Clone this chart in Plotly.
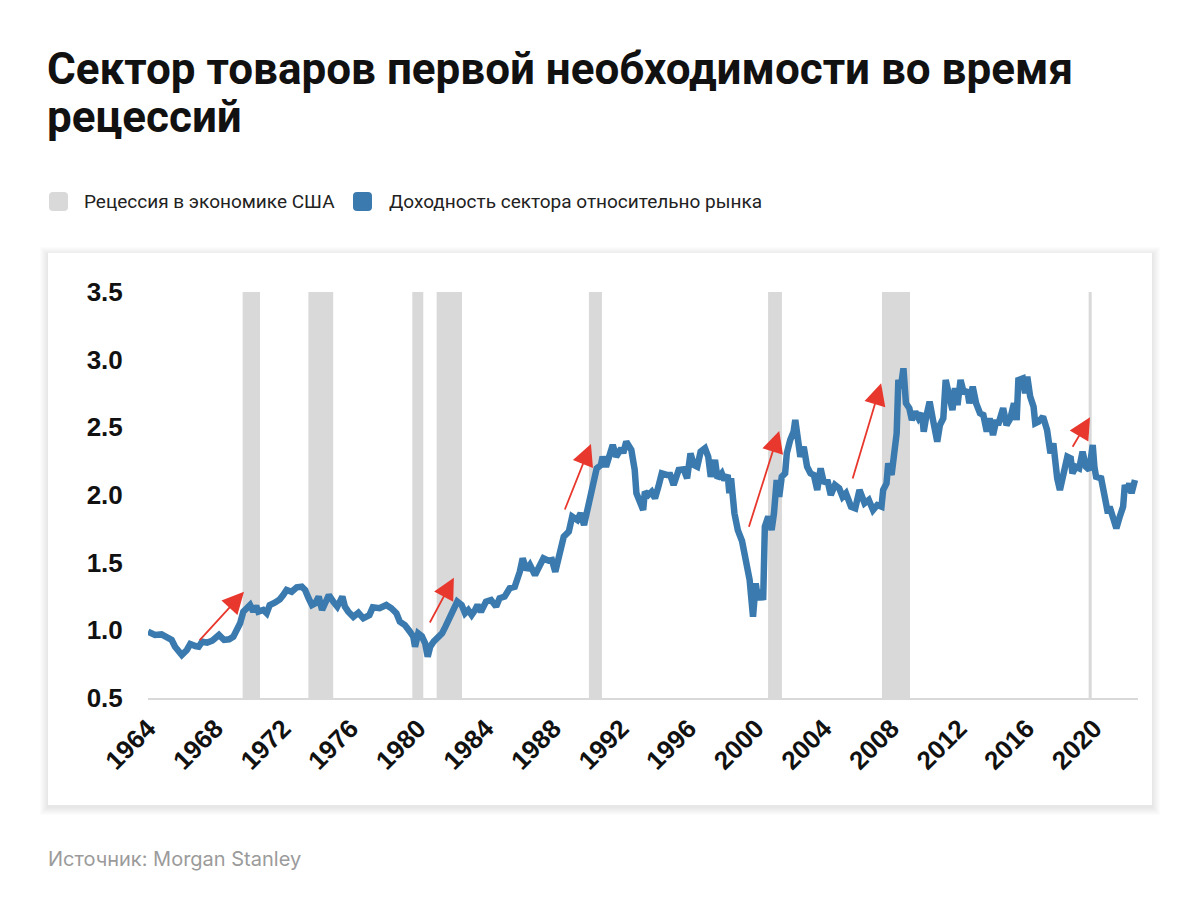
import plotly.graph_objects as go

# ---------------- data ----------------
years = [
    1964.0, 1964.2, 1964.41, 1964.8, 1965.1, 1965.4, 1965.6, 1966.0, 1966.3, 1966.5,
    1966.8, 1967.0, 1967.2, 1967.5, 1967.8, 1968.2, 1968.5, 1968.8, 1969.05, 1969.3,
    1969.45, 1969.64, 1969.84, 1970.04, 1970.23, 1970.4, 1970.53, 1970.82, 1971.02, 1971.2,
    1971.5, 1971.8, 1972.0, 1972.2, 1972.5, 1972.8, 1973.1, 1973.3, 1973.5, 1973.7,
    1973.9, 1974.1, 1974.3, 1974.5, 1974.7, 1974.96, 1975.2, 1975.5, 1975.65, 1975.85,
    1976.15, 1976.45, 1976.74, 1977.1, 1977.3, 1977.7, 1978.1, 1978.4, 1978.7, 1978.9,
    1979.2, 1979.5, 1979.7, 1979.8, 1979.99, 1980.2, 1980.4, 1980.55, 1980.7, 1980.9,
    1981.2, 1981.4, 1981.6, 1981.9, 1982.1, 1982.3, 1982.56, 1982.76, 1982.95, 1983.15,
    1983.35, 1983.5, 1983.7, 1984.0, 1984.3, 1984.6, 1984.8, 1985.1, 1985.4, 1985.7,
    1986.0, 1986.17, 1986.4, 1986.6, 1986.9, 1987.15, 1987.4, 1987.7, 1987.9, 1988.1,
    1988.4, 1988.6, 1988.9, 1989.1, 1989.4, 1989.6, 1989.8, 1990.0, 1990.2, 1990.4,
    1990.55, 1990.8, 1990.9, 1991.1, 1991.3, 1991.5, 1991.7, 1992.0, 1992.12, 1992.3,
    1992.6, 1992.8, 1992.9, 1993.1, 1993.3, 1993.4, 1993.6, 1993.8, 1994.0, 1994.2,
    1994.4, 1994.7, 1994.9, 1995.1, 1995.4, 1995.7, 1995.9, 1996.1, 1996.3, 1996.5,
    1996.7, 1996.96, 1997.15, 1997.3, 1997.55, 1997.7, 1997.95, 1998.1, 1998.3, 1998.4,
    1998.5, 1998.7, 1998.9, 1999.15, 1999.3, 1999.45, 1999.6, 1999.8, 1999.96, 2000.1,
    2000.24, 2000.4, 2000.5, 2000.7, 2000.9, 2001.04, 2001.2, 2001.35, 2001.5, 2001.7,
    2001.8, 2002.0, 2002.2, 2002.3, 2002.5, 2002.6, 2002.8, 2003.0, 2003.2, 2003.4,
    2003.6, 2003.8, 2004.0, 2004.2, 2004.4, 2004.65, 2004.9, 2005.1, 2005.3, 2005.6,
    2005.85, 2006.1, 2006.4, 2006.65, 2006.9, 2007.15, 2007.4, 2007.5, 2007.7, 2007.8,
    2008.0, 2008.14, 2008.3, 2008.4, 2008.54, 2008.7, 2008.85, 2009.05, 2009.2, 2009.4,
    2009.6, 2009.8, 2009.9, 2010.05, 2010.25, 2010.45, 2010.7, 2010.86, 2011.06, 2011.2,
    2011.4, 2011.6, 2011.75, 2011.9, 2012.08, 2012.28, 2012.48, 2012.6, 2012.8, 2013.0,
    2013.23, 2013.43, 2013.63, 2013.8, 2014.0, 2014.2, 2014.3, 2014.6, 2014.8, 2015.03,
    2015.24, 2015.4, 2015.5, 2015.76, 2015.9, 2016.03, 2016.2, 2016.4, 2016.5, 2016.7,
    2016.96, 2017.2, 2017.3, 2017.4, 2017.57, 2017.7, 2017.8, 2017.96, 2018.2, 2018.4,
    2018.6, 2018.7, 2018.9, 2019.1, 2019.3, 2019.5, 2019.7, 2019.9, 2020.0, 2020.1,
    2020.4, 2020.6, 2020.8, 2020.9, 2021.1, 2021.3, 2021.5, 2021.7, 2021.8, 2021.95,
    2022.07, 2022.2, 2022.4,
]
relative_return = [
    0.99, 0.98, 0.966, 0.97, 0.953, 0.929, 0.879, 0.818, 0.855, 0.899,
    0.884, 0.879, 0.916, 0.909, 0.923, 0.966, 0.929, 0.934, 0.953, 1.002,
    1.052, 1.138, 1.163, 1.187, 1.138, 1.18, 1.138, 1.15, 1.126, 1.187,
    1.204, 1.229, 1.261, 1.298, 1.285, 1.318, 1.322, 1.298, 1.237, 1.187,
    1.2, 1.249, 1.15, 1.212, 1.261, 1.212, 1.175, 1.249, 1.175, 1.138,
    1.10, 1.13, 1.089, 1.113, 1.17, 1.163, 1.187, 1.163, 1.126, 1.064,
    1.039, 0.99, 0.953, 0.879, 0.978, 0.958, 0.904, 0.805, 0.879, 0.916,
    0.953, 0.978, 1.027, 1.10, 1.163, 1.212, 1.187, 1.126, 1.15, 1.113,
    1.15, 1.187, 1.138, 1.212, 1.224, 1.175, 1.237, 1.249, 1.311, 1.322,
    1.433, 1.532, 1.446, 1.483, 1.409, 1.47, 1.532, 1.515, 1.52, 1.433,
    1.594, 1.692, 1.729, 1.84, 1.815, 1.865, 1.778, 1.889, 2.0, 2.111,
    2.197, 2.222, 2.283, 2.209, 2.296, 2.37, 2.283, 2.345, 2.31, 2.394,
    2.333, 2.185, 2.013, 1.963, 1.889, 2.024, 2.0, 2.024, 1.976, 2.061,
    2.16, 2.148, 2.148, 2.074, 2.185, 2.19, 2.123, 2.308, 2.222, 2.209,
    2.32, 2.345, 2.283, 2.135, 2.259, 2.123, 2.16, 2.111, 2.148, 2.013,
    2.123, 1.865, 1.741, 1.66, 1.557, 1.50, 1.372, 1.10, 1.347, 1.224,
    1.298, 1.224, 1.766, 1.84, 1.741, 1.865, 2.111, 1.987, 2.135, 2.16,
    2.308, 2.406, 2.468, 2.554, 2.406, 2.283, 2.357, 2.209, 2.16, 2.148,
    2.037, 2.197, 2.086, 2.111, 2.0, 2.074, 2.05, 1.987, 2.013, 1.914,
    1.902, 2.037, 1.939, 1.963, 1.889, 1.926, 1.914, 2.037, 2.086, 2.234,
    2.148, 2.259, 2.456, 2.85, 2.789, 2.936, 2.678, 2.641, 2.554, 2.616,
    2.567, 2.604, 2.468, 2.579, 2.69, 2.554, 2.394, 2.517, 2.567, 2.85,
    2.751, 2.628, 2.789, 2.665, 2.85, 2.751, 2.776, 2.678, 2.8, 2.678,
    2.604, 2.591, 2.468, 2.567, 2.443, 2.554, 2.517, 2.641, 2.517, 2.567,
    2.678, 2.554, 2.85, 2.862, 2.751, 2.874, 2.727, 2.653, 2.53, 2.542,
    2.579, 2.48, 2.394, 2.308, 2.382, 2.185, 2.123, 2.037, 2.16, 2.283,
    2.271, 2.16, 2.209, 2.197, 2.32, 2.209, 2.185, 2.37, 2.209, 2.135,
    2.123, 1.987, 1.865, 1.914, 1.815, 1.754, 1.84, 1.914, 2.074, 2.024,
    2.086, 2.013, 2.111,
]

recession_start = [1969.60, 1973.49, 1979.64, 1981.08, 1990.09, 2000.69, 2007.43, 2019.66]
recession_end = [1970.63, 1974.96, 1980.29, 1982.58, 1990.86, 2001.51, 2009.09, 2019.84]

arrow_tail_x = [1966.98, 1980.63, 1988.63, 1999.53, 2005.67, 2018.66]
arrow_tail_y = [0.916, 1.047, 1.882, 1.754, 2.111, 2.345]
arrow_head_x = [1969.68, 1982.10, 1990.21, 2001.35, 2007.38, 2019.74]
arrow_head_y = [1.285, 1.389, 2.377, 2.473, 2.825, 2.574]

x_ticks = list(range(1964, 2021, 4))
y_ticks = [0.5, 1.0, 1.5, 2.0, 2.5, 3.0, 3.5]
y_tick_text = ["0.5", "1.0", "1.5", "2.0", "2.5", "3.0", "3.5"]

title_lines = ["Сектор товаров первой необходимости во время", "рецессий"]
legend_names = ["Рецессия в экономике США", "Доходность сектора относительно рынка"]
source_text = "Источник: Morgan Stanley"

# ---------------- layout geometry ----------------
OFF = 8  # page body margin of the html page
W, H = 1200 - OFF, 911 - OFF
PL, PR, PT, PB = 148, 1138, 292, 698  # plot area in page pixels


def px(xp):
    return (xp - PL) / (PR - PL)


def py(yp):
    return (PB - yp) / (PB - PT)


LINE_BLUE = "#3a7aae"
REC_GRAY = "#d9d9d9"
ARROW_RED = "#e8372c"

fig = go.Figure()

fig.add_trace(go.Scatter(
    x=years, y=relative_return, mode="lines",
    line=dict(color=LINE_BLUE, width=6.5),
    name=legend_names[1], showlegend=False, hoverinfo="x+y",
))

shapes = []
# card shadow + card
for i in range(8, 0, -1):
    shapes.append(dict(
        type="rect", xref="paper", yref="paper", layer="below",
        x0=px(48 - i), x1=px(1152 + i), y0=py(253 - i + 2), y1=py(805 + i + 2),
        fillcolor="rgba(0,0,0,0.012)", line=dict(width=0),
    ))
shapes.append(dict(
    type="rect", xref="paper", yref="paper", layer="below",
    x0=px(48), x1=px(1152), y0=py(253), y1=py(805),
    fillcolor="white", line=dict(width=0),
))
# recession bands
for s, e in zip(recession_start, recession_end):
    shapes.append(dict(
        type="rect", xref="x", yref="y", layer="below",
        x0=s, x1=e, y0=0.5, y1=3.5,
        fillcolor=REC_GRAY, line=dict(width=0),
    ))


def rounded_rect(x0, y0, x1, y1, r):
    rx = r / (PR - PL)
    ry = r / (PB - PT)
    X0, X1 = px(x0), px(x1)
    Y0, Y1 = py(y1), py(y0)
    return (f"M{X0 + rx},{Y0} L{X1 - rx},{Y0} Q{X1},{Y0} {X1},{Y0 + ry} "
            f"L{X1},{Y1 - ry} Q{X1},{Y1} {X1 - rx},{Y1} L{X0 + rx},{Y1} "
            f"Q{X0},{Y1} {X0},{Y1 - ry} L{X0},{Y0 + ry} Q{X0},{Y0} {X0 + rx},{Y0} Z")


shapes.append(dict(type="path", xref="paper", yref="paper",
                   path=rounded_rect(49, 192, 68, 211, 4),
                   fillcolor=REC_GRAY, line=dict(width=0)))
shapes.append(dict(type="path", xref="paper", yref="paper",
                   path=rounded_rect(353, 192, 372, 211, 4),
                   fillcolor=LINE_BLUE, line=dict(width=0)))

annotations = []
for line_text, line_center in zip(title_lines, [69, 117]):
    annotations.append(dict(
        xref="paper", yref="paper", x=px(45), y=py(line_center), xanchor="left",
        yanchor="middle", text=f"<b>{line_text}</b>", showarrow=False, align="left",
        font=dict(family="Roboto", size=44, color="#111111"),
    ))
annotations.append(dict(
    xref="paper", yref="paper", x=px(82), y=py(201), xanchor="left", yanchor="middle",
    text=legend_names[0], showarrow=False,
    font=dict(family="Roboto", size=19, color="#222222"),
))
annotations.append(dict(
    xref="paper", yref="paper", x=px(387), y=py(201), xanchor="left", yanchor="middle",
    text=legend_names[1], showarrow=False,
    font=dict(family="Roboto", size=19, color="#222222"),
))
annotations.append(dict(
    xref="paper", yref="paper", x=px(46), y=py(859), xanchor="left", yanchor="middle",
    text=source_text, showarrow=False,
    font=dict(family="Inter", size=20, color="#9b9b9b"),
))
for tx, ty, hx, hy in zip(arrow_tail_x, arrow_tail_y, arrow_head_x, arrow_head_y):
    annotations.append(dict(
        x=hx, y=hy, ax=tx, ay=ty, xref="x", yref="y", axref="x", ayref="y",
        text="", showarrow=True, arrowhead=2, arrowsize=2.4, arrowwidth=1.8,
        arrowcolor=ARROW_RED, standoff=0, startstandoff=0,
    ))

tick_font = dict(family="Liberation Sans, Arial", size=26, color="#111111", weight="bold")

fig.update_layout(
    width=W, height=H,
    margin=dict(l=PL - OFF, r=W - (PR - OFF), t=PT - OFF, b=H - (PB - OFF), autoexpand=False),
    paper_bgcolor="white", plot_bgcolor="rgba(0,0,0,0)",
    showlegend=False,
    shapes=shapes, annotations=annotations,
    xaxis=dict(
        range=[1964, 2022.58], tickvals=x_ticks, ticktext=[str(v) for v in x_ticks],
        tickangle=-45, showgrid=False, zeroline=False,
        showline=True, linecolor="#d9d9d9", linewidth=2,
        ticks="outside", ticklen=3, tickcolor="rgba(0,0,0,0)",
        tickfont=tick_font, automargin=False,
    ),
    yaxis=dict(
        range=[0.5, 3.5], tickvals=y_ticks, ticktext=y_tick_text,
        showgrid=False, zeroline=False, showline=False,
        ticks="outside", ticklen=19, tickcolor="rgba(0,0,0,0)",
        tickfont=tick_font, automargin=False,
    ),
)

fig.write_html("out.html")
